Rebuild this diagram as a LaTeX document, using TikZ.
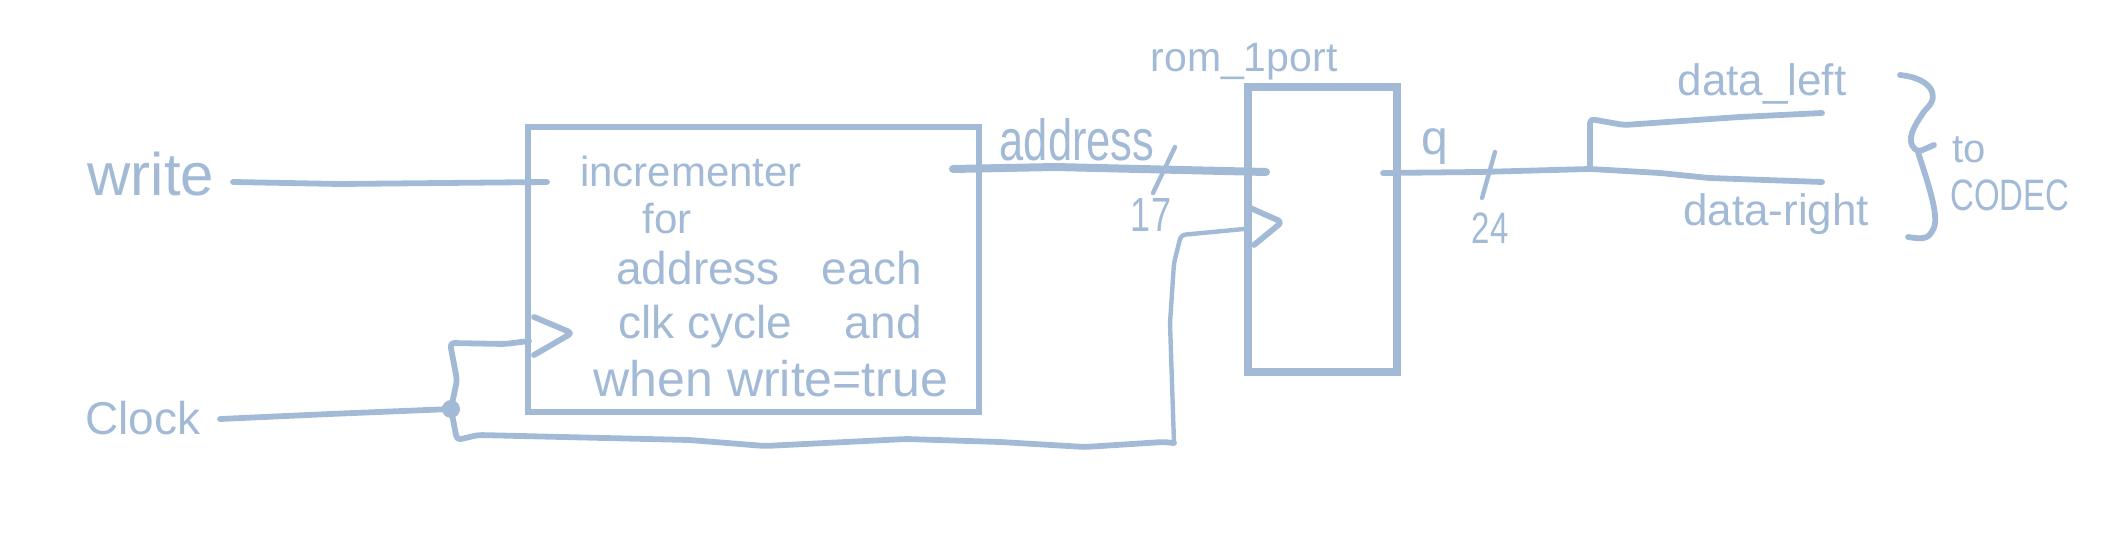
\documentclass[tikz,border=0pt]{standalone}
\usepackage{fontspec}
\setmainfont{Liberation Sans}
\newfontfamily\narrowfam[FakeStretch=0.75]{Liberation Sans}
\usepackage{xcolor}
\usetikzlibrary{positioning}
\definecolor{inkblue}{HTML}{A3BAD6}
\tikzset{wire/.style={draw=inkblue,line width=2.9pt,line cap=round,line join=round,rounded corners=2pt}}
\tikzset{thickwire/.style={wire,line width=4pt}}
\tikzset{thinwire/.style={wire,line width=2.2pt}}
\tikzset{blockbox/.style={rectangle,draw=inkblue,inner sep=0pt}}
\tikzset{lab/.style={text=inkblue,inner sep=0pt,font=\fontsize{#1}{#1}\selectfont}}
\tikzset{narrowlab/.style={text=inkblue,inner sep=0pt,font=\narrowfam\fontsize{#1}{#1}\selectfont}}
\begin{document}
\begin{tikzpicture}[x=0.5pt,y=-0.5pt]
        \useasboundingbox (0,0) rectangle (2111,534);

        \node[blockbox,line width=3pt,minimum width=225.5pt,minimum height=142.5pt] (incr) at (753.5,269.5) {};
        \node[blockbox,line width=4pt,minimum width=74.5pt,minimum height=142.5pt] (rom) at (1322.5,229.5) {};

        \node[lab=30pt] (write) at (151,174) {write};
        \node[lab=23pt] (clock) at (143,418) {Clock};
        \node[lab=21pt] (t1) at (691,171) {incrementer};
        \node[lab=21pt] (t2) at (667,219) {for};
        \node[lab=23pt] (t3) at (769,268) {address\hspace{21pt}each};
        \node[lab=23pt] (t4) at (770,327) {clk cycle\hspace{20pt} and};
        \node[lab=25pt] (t5) at (771,379) {when write=true};
        \node[narrowlab=29pt] (address) at (1077,140) {address};
        \node[lab=20.5pt] (romname) at (1244,62) {rom\_1port};
        \node[lab=24pt] (q) at (1435,147) {q};
        \node[narrowlab=24pt] (seventeen) at (1151,215) {17};
        \node[narrowlab=22pt] (twentyfour) at (1490,228) {24};
        \node[lab=22pt] (dataleft) at (1762,84) {data\_left};
        \node[lab=22pt] (dataright) at (1776,214) {data-right};
        \node[lab=20pt] (to) at (1969,150) {to};
        \node[narrowlab=22pt] (codec) at (2010,195) {CODEC};

        \coordinate (writeend) at (233,182);
        \coordinate (writein) at (547,182);
        \coordinate (clockstart) at (220,419);
        \coordinate (junction) at (451,409);
        \coordinate (incrclk) at (529,341);
        \coordinate (bottomend) at (1174,443);
        \coordinate (romclk) at (1244,229);
        \coordinate (addrout) at (953,169);
        \coordinate (addrin) at (1266,172);
        \coordinate (qout) at (1383,173);
        \coordinate (split) at (1590,169);
        \coordinate (leftout) at (1822,113);
        \coordinate (rightout) at (1822,182);

        % inputs
        \draw [wire] (writeend) -- (340,184) -- (writein);
        \draw [wire] (clockstart) -- (330,414) -- (junction);
        \fill [inkblue] (junction) circle (4.5pt);
        \draw [wire] (junction) -- (457,380) -- (450,343) -- (505,344) -- (incrclk);
        \draw [wire] (junction) -- (457,440) -- (478,435) -- (689,440) -- (765,446) -- (906,439) -- (1000,442) -- (1085,447) -- (1163,442) -- (bottomend);
        \draw [thinwire] (bottomend) -- (1170,323) -- (1174,263) -- (1181,235) -- (romclk);

        % clock marks
        \coordinate (m1a) at (534,317);
        \coordinate (m1b) at (572,333);
        \coordinate (m1c) at (534,355);
        \draw [wire] (m1a) -- (m1b) -- (m1c);
        \coordinate (m2a) at (1248,207);
        \coordinate (m2b) at (1282,222);
        \coordinate (m2c) at (1254,245);
        \draw [wire] (m2a) -- (m2b) -- (m2c);

        % address and data
        \draw [thickwire] (addrout) -- (1055,167) -- (addrin);
        \coordinate (s1a) at (1175,147);
        \coordinate (s1b) at (1153,193);
        \draw [thinwire] (s1a) -- (s1b);
        \draw [wire] (qout) -- (1480,172) -- (split);
        \coordinate (s2a) at (1495,152);
        \coordinate (s2b) at (1482,198);
        \draw [thinwire] (s2a) -- (s2b);
        \draw [wire] (split) -- (1590,119) -- (1624,125) -- (1740,117) -- (leftout);
        \draw [wire] (split) -- (1660,173) -- (1709,178) -- (rightout);

        % brace
        \coordinate (brtop) at (1900,75);
        \coordinate (brtip) at (1934,145);
        \coordinate (brbot) at (1908,237);
        \draw [wire] (brtop) .. controls (1930,78) and (1940,95) .. (1925,110) .. controls (1915,125) and (1905,140) .. (1918,152) -- (brtip);
        \draw [wire] (1918,152) .. controls (1925,175) and (1940,215) .. (1932,232) .. controls (1925,240) and (1915,238) .. (brbot);
    \end{tikzpicture}
\end{document}
